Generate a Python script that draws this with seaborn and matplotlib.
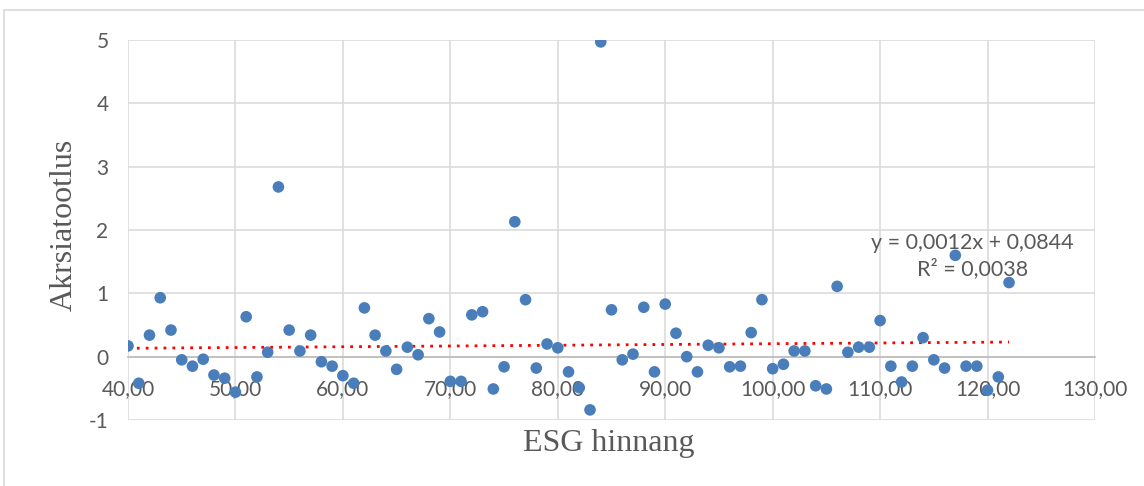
import numpy as np
import pandas as pd
import matplotlib.pyplot as plt
import matplotlib.patches as mpatches
import seaborn as sns

# ESG score vs. return
esg = list(range(40, 123))
returns = [0.17, -0.42, 0.34, 0.93, 0.42, -0.05, -0.15, -0.04, -0.29, -0.34,
           -0.56, 0.63, -0.32, 0.07, 2.68, 0.42, 0.09, 0.34, -0.08, -0.15,
           -0.30, -0.42, 0.77, 0.34, 0.09, -0.20, 0.15, 0.03, 0.60, 0.39,
           -0.39, -0.39, 0.66, 0.71, -0.51, -0.16, 2.13, 0.90, -0.18, 0.20,
           0.14, -0.24, -0.49, -0.84, 4.97, 0.74, -0.05, 0.04, 0.78, -0.24,
           0.83, 0.37, 0.00, -0.24, 0.18, 0.14, -0.16, -0.15, 0.38, 0.90,
           -0.19, -0.12, 0.09, 0.09, -0.46, -0.51, 1.11, 0.07, 0.15, 0.15,
           0.57, -0.15, -0.40, -0.15, 0.30, -0.05, -0.18, 1.60, -0.15, -0.15,
           -0.53, -0.32, 1.17]

x_ticks = [40, 50, 60, 70, 80, 90, 100, 110, 120, 130]
x_tick_labels = ["40,00", "50,00", "60,00", "70,00", "80,00", "90,00",
                 "100,00", "110,00", "120,00", "130,00"]
y_ticks = [-1, 0, 1, 2, 3, 4, 5]

# trendline as given in the chart
slope = 0.0012
intercept = 0.0844
trend_label = "y = 0,0012x + 0,0844\nR² = 0,0038"

df = pd.DataFrame({"ESG hinnang": esg, "Akrsiatootlus": returns})

sns.set_theme(style="whitegrid")
plt.rcParams['font.family'] = ['Lato', 'DejaVu Sans']
plt.rcParams['axes.unicode_minus'] = False

fig = plt.figure(figsize=(11.44, 4.86), dpi=100)
ax = fig.add_axes([128 / 1144, 1 - 420 / 486, (1095 - 128) / 1144, 380 / 486])

grid_col = "#d9d9d9"
text_col = "#595959"

sns.scatterplot(data=df, x="ESG hinnang", y="Akrsiatootlus", ax=ax,
                color="#4a7ebb", s=70, edgecolor="none", zorder=3)

xs = np.array([esg[0], esg[-1]])
ax.plot(xs, slope * xs + intercept, color="red", linestyle=(0, (1, 2.2)),
        linewidth=2, zorder=2)

ax.set_xlim(40, 130)
ax.set_ylim(-1, 5)
ax.set_xticks(x_ticks)
ax.set_xticklabels(x_tick_labels)
ax.set_yticks(y_ticks)
ax.grid(True, color=grid_col, linewidth=1.1)

for side in ["top", "right", "left"]:
    ax.spines[side].set_visible(False)
ax.spines["bottom"].set_position(("data", 0))
ax.spines["bottom"].set_color("#bfbfbf")
ax.spines["bottom"].set_linewidth(1.3)

ax.tick_params(axis="x", length=0, pad=16, labelsize=15, labelcolor=text_col)
ax.tick_params(axis="y", length=0, pad=14, labelsize=15, labelcolor=text_col)

ax.set_xlabel("")
ax.set_ylabel("")
fig.text(609 / 1144, 1 - 443 / 486, "ESG hinnang", family="Liberation Serif",
         fontsize=23, color=text_col, ha="center", va="center")
fig.text(64 / 1144, 1 - 225 / 486, "Akrsiatootlus", family="Liberation Serif",
         fontsize=23, color=text_col, ha="center", va="center", rotation=90)

ax.text(118.6, 1.59, trend_label, fontsize=15.5, color=text_col,
        ha="center", va="center", linespacing=1.3, zorder=4)

# outer chart border
fig.patches.append(mpatches.Rectangle((4 / 1144, -0.1), 1.2, 1.1 - 10 / 486,
                                      transform=fig.transFigure, fill=False,
                                      edgecolor=grid_col, linewidth=1.2))

fig.savefig("out.png", dpi=100)
